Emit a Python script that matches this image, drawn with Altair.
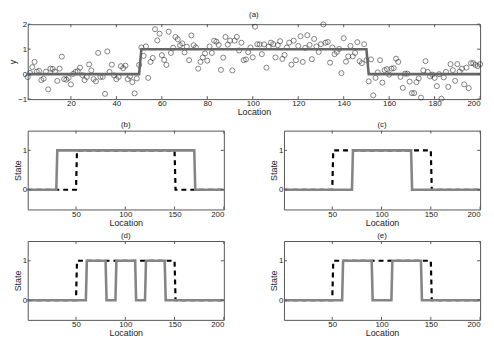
import altair as alt
import pandas as pd

# ---------------- data ----------------
loc = list(range(1, 201))
y_obs = [
    -0.12, 0.05, 0.28, 0.49, 0.10, 0.13, -0.24, -0.18, 0.10, -0.61,
    0.22, 0.21, 0.10, -0.27, 0.22, 0.70, -0.20, -0.22, -0.15, -0.41,
    0.01, 0.09, 0.12, 0.26, -0.04, -0.24, -0.11, 0.39, 0.15, -0.20,
    -0.29, 0.85, -0.11, -0.11, -0.79, 0.91, 0.09, 0.38, -0.05, -0.20,
    -0.11, 0.32, 0.24, 0.34, -0.20, -0.09, -0.32, -0.77, -0.17, 0.37,
    1.07, 0.73, 1.11, -0.15, 0.49, 0.65, 1.80, 1.35, 1.62, 0.76,
    0.57, 0.37, 1.70, 0.85, 1.06, 1.49, 1.40, 1.16, 1.23, 0.87,
    1.10, 0.56, 1.55, 1.16, 1.07, 0.22, 0.49, 0.67, 0.83, 0.54,
    1.11, 0.85, 1.34, 1.30, 1.17, 0.17, 0.66, 1.49, 1.18, 1.34,
    0.15, 1.34, 1.49, 0.95, 1.26, 0.56, 0.59, 0.88, 1.07, 0.67,
    1.90, 1.20, 1.19, 0.80, 1.19, 0.26, 1.10, 1.26, 1.20, 0.67,
    1.16, 1.32, 0.61, 0.77, 1.07, 1.26, 0.38, 1.34, 0.56, 1.13,
    1.52, 0.49, 1.05, 1.56, 1.17, 0.60, 1.41, 1.11, 0.89, 1.20,
    1.99, 1.26, 1.29, 0.46, 1.07, 0.80, 0.89, 1.01, 0.04, 1.44,
    0.50, 0.71, 1.13, 0.71, 0.85, 1.28, 0.52, 0.44, 1.20, 0.56,
    -0.29, 0.59, -0.85, -0.15, 0.07, 0.56, -0.34, 0.16, 0.20, -0.02,
    0.22, 0.24, 0.62, 0.49, -0.11, -0.55, 0.02, 0.02, -0.30, -0.76,
    -0.76, -0.32, -0.17, -0.94, 0.15, 0.52, 0.09, -0.09, -0.02, -0.15,
    -0.48, 0.00, -0.98, -0.13, 0.09, -0.51, 0.40, 0.16, -0.27, 0.40,
    0.10, 0.22, -0.41, 0.26, -0.56, 0.44, 0.44, 0.37, 0.32, 0.40,
]

mean_x = [1, 50, 51, 150, 151, 200]
mean_y = [0, 0, 1, 1, 0, 0]

truth_x = [1, 50, 51, 150, 151, 200]
truth_y = [0, 0, 1, 1, 0, 0]

est_b_x = [1, 30, 31, 170, 171, 200]
est_b_y = [0, 0, 1, 1, 0, 0]
est_c_x = [1, 70, 71, 130, 131, 200]
est_c_y = [0, 0, 1, 1, 0, 0]
est_d_x = [1, 60, 61, 80, 81, 90, 91, 110, 111, 120, 121, 140, 141, 200]
est_d_y = [0, 0, 1, 1, 0, 0, 1, 1, 0, 0, 1, 1, 0, 0]
est_e_x = [1, 60, 61, 90, 91, 110, 111, 140, 141, 200]
est_e_y = [0, 0, 1, 1, 0, 0, 1, 1, 0, 0]

top_xticks = [20, 40, 60, 80, 100, 120, 140, 160, 180, 200]
top_yticks = [-1, 0, 1, 2]
bot_xticks = [50, 100, 150, 200]
bot_yticks = [0, 1]

FONT = "Liberation Sans"
FRAME = "#555555"
GRAY = "#858585"
TXT = "#222222"


def title(t):
    return alt.TitleParams(t, fontSize=8, fontWeight="normal", font=FONT,
                           offset=1, color=TXT)


def axis(t, vals):
    return alt.Axis(title=t, values=vals, titleColor=TXT, labelColor=TXT,
                    titleFontWeight="normal")


def inward_ticks(xvals, yvals, xscale, yscale, xaxis, yaxis, W, H, n=3):
    tx = pd.DataFrame({"loc": xvals})
    ty = pd.DataFrame({"val": yvals})
    base_x = alt.X("loc:Q", scale=xscale, axis=xaxis)
    base_y = alt.Y("val:Q", scale=yscale, axis=yaxis)
    return [
        alt.Chart(tx).mark_rule(color=FRAME, strokeWidth=1).encode(
            x=base_x, y=alt.value(H), y2=alt.value(H - n)),
        alt.Chart(tx).mark_rule(color=FRAME, strokeWidth=1).encode(
            x=base_x, y=alt.value(0), y2=alt.value(n)),
        alt.Chart(ty).mark_rule(color=FRAME, strokeWidth=1).encode(
            y=base_y, x=alt.value(0), x2=alt.value(n)),
        alt.Chart(ty).mark_rule(color=FRAME, strokeWidth=1).encode(
            y=base_y, x=alt.value(W), x2=alt.value(W - n)),
    ]


# ---------------- top panel (a) ----------------
TW, TH = 459, 76
txscale = alt.Scale(domain=[1, 200], nice=False, zero=False)
tyscale = alt.Scale(domain=[-1, 2], nice=False, zero=False)
txaxis = axis("Location", top_xticks)
tyaxis = axis("y", top_yticks)

obs = pd.DataFrame({"loc": loc, "val": y_obs})
mean_df = pd.DataFrame({"loc": mean_x, "val": mean_y})

pts = alt.Chart(obs).mark_point(shape="circle", filled=False, size=26,
                                 strokeWidth=0.8, color="#222222").encode(
    x=alt.X("loc:Q", scale=txscale, axis=txaxis),
    y=alt.Y("val:Q", scale=tyscale, axis=tyaxis),
)
mline = alt.Chart(mean_df).mark_line(color="#666666", strokeWidth=2.6).encode(
    x=alt.X("loc:Q", scale=txscale, axis=txaxis),
    y=alt.Y("val:Q", scale=tyscale, axis=tyaxis),
    order="loc:Q",
)
top = alt.layer(
    pts, mline,
    *inward_ticks(top_xticks, top_yticks, txscale, tyscale, txaxis, tyaxis, TW, TH),
).properties(width=TW, height=TH, title=title("(a)"))


# ---------------- state panels ----------------
BW, BH = 199, 80
bxscale = alt.Scale(domain=[1, 200], nice=False, zero=False)
byscale = alt.Scale(domain=[-0.5, 1.5], nice=False, zero=False)
bxaxis = axis("Location", bot_xticks)
byaxis = axis("State", bot_yticks)


def state_panel(ex, ey, label):
    tdf = pd.DataFrame({"loc": truth_x, "val": truth_y})
    edf = pd.DataFrame({"loc": ex, "val": ey})
    dashed = alt.Chart(tdf).mark_line(color="black", strokeWidth=2.2,
                                      strokeDash=[5, 4]).encode(
        x=alt.X("loc:Q", scale=bxscale, axis=bxaxis),
        y=alt.Y("val:Q", scale=byscale, axis=byaxis),
        order="loc:Q",
    )
    est = alt.Chart(edf).mark_line(color=GRAY, strokeWidth=2.6).encode(
        x=alt.X("loc:Q", scale=bxscale, axis=bxaxis),
        y=alt.Y("val:Q", scale=byscale, axis=byaxis),
        order="loc:Q",
    )
    return alt.layer(
        dashed, est,
        *inward_ticks(bot_xticks, bot_yticks, bxscale, byscale, bxaxis, byaxis, BW, BH),
    ).properties(width=BW, height=BH, title=title(label))


row1 = alt.hconcat(state_panel(est_b_x, est_b_y, "(b)"),
                   state_panel(est_c_x, est_c_y, "(c)"),
                   spacing=61, bounds="flush")
row2 = alt.hconcat(state_panel(est_d_x, est_d_y, "(d)"),
                   state_panel(est_e_x, est_e_y, "(e)"),
                   spacing=61, bounds="flush")

chart = alt.vconcat(top, row1, row2, spacing=3).properties(
    padding={"left": 0, "top": 0, "right": 0, "bottom": 0}
).configure_view(
    stroke=FRAME, strokeWidth=1
).configure_axis(
    domain=False, ticks=False, grid=False,
    labelFont=FONT, titleFont=FONT, labelFontSize=8, titleFontSize=9,
    labelColor=TXT, titleColor=TXT, titleFontWeight="normal",
    labelPadding=1, titlePadding=0,
)

chart.save("out.html", embed_options={"renderer": "svg", "actions": False})
